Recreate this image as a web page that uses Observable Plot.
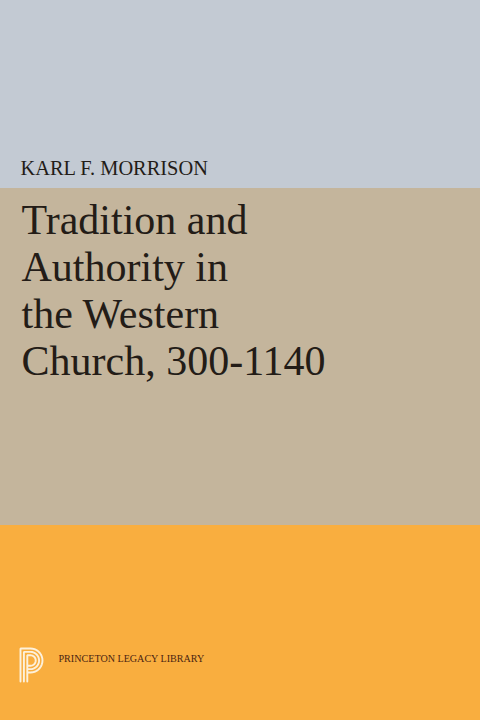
<!DOCTYPE html>
<html>
<head>
<meta charset="utf-8">
<script src="https://cdn.jsdelivr.net/npm/d3@7"></script>
<script src="https://cdn.jsdelivr.net/npm/@observablehq/plot@0.6"></script>
<style>
  html, body { margin: 0; padding: 0; background: #f9ae3f; }
  #chart svg { display: block; }
</style>
</head>
<body>
<div id="chart"></div>
<script>
// Cover content
const bandNames = ["sky", "stone", "amber"];
const bandTop = [0, 188, 525];
const bandBottom = [188, 525, 720];
const bandColors = ["#c3cad3", "#c4b59c", "#f9ae3f"];

const author = "KARL F. MORRISON";
const titleLines = ["Tradition and", "Authority in", "the Western", "Church, 300-1140"];
const imprint = "PRINCETON LEGACY LIBRARY";

const bands = bandNames.map((n, i) => ({name: n, y1: bandTop[i], y2: bandBottom[i], color: bandColors[i]}));

// Princeton "P" logo: three concentric strokes
const logo = [];
const lx = 20, ly = 648, lb = 681, cx = 30, s = 3.4;
for (let k = 0; k < 3; k++) {
  const r = 12 - k * s;
  const cy = ly + 12;
  const sx = lx + k * s;
  const pts = [[sx, lb], [sx, cy - r], [cx, cy - r]];
  for (let a = -90; a <= 90; a += 10) {
    const t = a * Math.PI / 180;
    pts.push([cx + r * Math.cos(t), cy + r * Math.sin(t)]);
  }
  pts.push([lx + 2 * s + 0.8, cy + r]);
  pts.forEach(p => logo.push({k, x: p[0], y: p[1]}));
}

const ink = "#231c17";
const chart = Plot.plot({
  width: 480,
  height: 720,
  margin: 0,
  x: {domain: [0, 480], axis: null},
  y: {domain: [0, 720], reverse: true, axis: null},
  style: {background: "transparent"},
  marks: [
    Plot.rect(bands, {x1: 0, x2: 480, y1: "y1", y2: "y2", fill: "color"}),
    Plot.text([author], {x: 20, y: 174, text: d => d, textAnchor: "start", lineAnchor: "bottom",
      fontFamily: "Liberation Serif", fontSize: 20.4, fill: ink}),
    Plot.text(titleLines, {x: 21, y: (d, i) => 233 + i * 47, text: d => d, textAnchor: "start", lineAnchor: "bottom",
      fontFamily: "Liberation Serif", fontSize: 42, fill: ink}),
    Plot.line(logo, {x: "x", y: "y", z: "k", stroke: "#fdf1dc", strokeWidth: 1.9, strokeLinejoin: "miter", curve: "linear"}),
    Plot.text([imprint], {x: 58, y: 661, text: d => d, textAnchor: "start", lineAnchor: "bottom",
      fontFamily: "Liberation Serif", fontSize: 10.1, fill: "#4a2412"})
  ]
});
document.getElementById("chart").append(chart);
</script>
</body>
</html>
